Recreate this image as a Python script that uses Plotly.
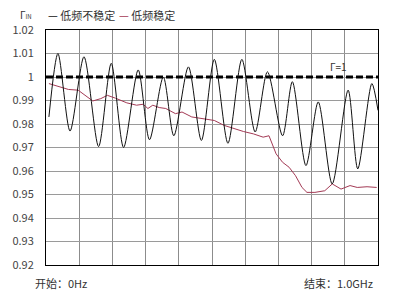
import plotly.graph_objects as go

# Frequency (GHz) and reflection coefficient magnitude
freq_unstable = [0.0088, 0.036, 0.0724, 0.1144, 0.1584, 0.1965, 0.2337, 0.2777, 0.3117, 0.3534,
                 0.385, 0.429, 0.468, 0.507, 0.548, 0.590, 0.630, 0.667, 0.7126, 0.742,
                 0.783, 0.820, 0.862, 0.910, 0.939, 0.9815, 1.0]
gamma_unstable = [0.983, 1.010, 0.977, 1.0086, 0.9704, 1.0058, 0.970, 1.003, 0.9733, 1.000,
                  0.975, 1.0043, 0.973, 1.0075, 0.9718, 1.0075, 0.9766, 1.0022, 0.975, 0.998,
                  0.9623, 0.9894, 0.9545, 0.9944, 0.9609, 0.9972, 0.9858]

freq_stable = [0.0088, 0.0381, 0.0674, 0.0968, 0.1164, 0.1408, 0.1651, 0.1848, 0.2091, 0.2434,
               0.2727, 0.2924, 0.307, 0.3217, 0.341, 0.3607, 0.39, 0.4097, 0.439, 0.478,
               0.507, 0.5367, 0.566, 0.595, 0.6246, 0.654, 0.6716, 0.693, 0.7126, 0.7322,
               0.7516, 0.771, 0.786, 0.810, 0.8397, 0.8622, 0.8886, 0.9158, 0.9375, 0.967, 0.996]
gamma_stable = [0.9972, 0.9958, 0.9947, 0.9944, 0.9922, 0.9898, 0.9908, 0.9922, 0.991, 0.989,
                0.988, 0.9884, 0.9866, 0.988, 0.987, 0.9866, 0.9844, 0.9851, 0.983, 0.9823,
                0.9815, 0.9794, 0.978, 0.9768, 0.9758, 0.9744, 0.975, 0.9673, 0.9637, 0.9616,
                0.958, 0.953, 0.9509, 0.9509, 0.9516, 0.9545, 0.9523, 0.9538, 0.953, 0.9533, 0.953]

gamma_ref = 1.0
y_ticks = [0.92, 0.93, 0.94, 0.95, 0.96, 0.97, 0.98, 0.99, 1.0, 1.01, 1.02]
y_tick_text = ["0.92", "0.93", "0.94", "0.95", "0.96", "0.97", "0.98", "0.99", "1", "1.01", "1.02"]

FONT = "Noto Sans CJK SC"
RED = "#a33a55"

fig = go.Figure()
fig.add_trace(go.Scatter(x=[0, 1], y=[gamma_ref, gamma_ref], mode="lines",
                         line=dict(color="black", width=3, dash="7px,3px"),
                         showlegend=False, hoverinfo="skip"))
fig.add_trace(go.Scatter(x=freq_stable, y=gamma_stable, mode="lines", name="低频稳定",
                         line=dict(color=RED, width=1), showlegend=False))
fig.add_trace(go.Scatter(x=freq_unstable, y=gamma_unstable, mode="lines", name="低频不稳定",
                         line=dict(color="#111111", width=1, shape="spline", smoothing=0.8),
                         showlegend=False))

fig.update_xaxes(range=[0, 1], dtick=0.1, tick0=0, showgrid=True, gridcolor="#8c8c8c", gridwidth=1,
                 showline=True, linecolor="black", linewidth=1, mirror=True,
                 showticklabels=False, ticks="", zeroline=False)
fig.update_yaxes(range=[0.92, 1.02], tickvals=y_ticks, ticktext=y_tick_text,
                 showgrid=True, gridcolor="#9a9a9a", gridwidth=1,
                 showline=True, linecolor="black", linewidth=1, mirror=True,
                 ticks="", zeroline=False, ticklabelstandoff=9,
                 tickfont=dict(family=FONT, size=11, color="#444"))

annotations = [
    dict(text="Γ<span style='font-size:6px'>IN</span>", xref="paper", yref="paper", x=-0.085, y=1.065,
         xanchor="left", yanchor="middle", showarrow=False,
         font=dict(family=FONT, size=10, color="#333")),
    dict(text="<span style='color:#111'>—</span> 低频不稳定", xref="paper", yref="paper",
         x=0.0, y=1.065, xanchor="left", yanchor="middle", showarrow=False,
         font=dict(family=FONT, size=11, color="#333")),
    dict(text="<span style='color:" + RED + "'>—</span> 低频稳定", xref="paper", yref="paper",
         x=0.215, y=1.065, xanchor="left", yanchor="middle", showarrow=False,
         font=dict(family=FONT, size=11, color="#333")),
    dict(text="Γ=1", x=0.88, y=gamma_ref, xref="x", yref="y", yshift=11,
         xanchor="center", yanchor="middle", showarrow=False,
         font=dict(family=FONT, size=10, color="#333")),
    dict(text="开始：0Hz", xref="paper", yref="paper", x=-0.04, y=-0.075,
         xanchor="left", yanchor="middle", showarrow=False,
         font=dict(family=FONT, size=11, color="#333")),
    dict(text="结束：1.0GHz", xref="paper", yref="paper", x=0.99, y=-0.075,
         xanchor="right", yanchor="middle", showarrow=False,
         font=dict(family=FONT, size=11, color="#333")),
]

fig.update_layout(width=396, height=297, margin=dict(l=37, r=18, t=30, b=32),
                  paper_bgcolor="white", plot_bgcolor="white",
                  annotations=annotations, showlegend=False,
                  font=dict(family=FONT))

fig.write_html("out.html")
